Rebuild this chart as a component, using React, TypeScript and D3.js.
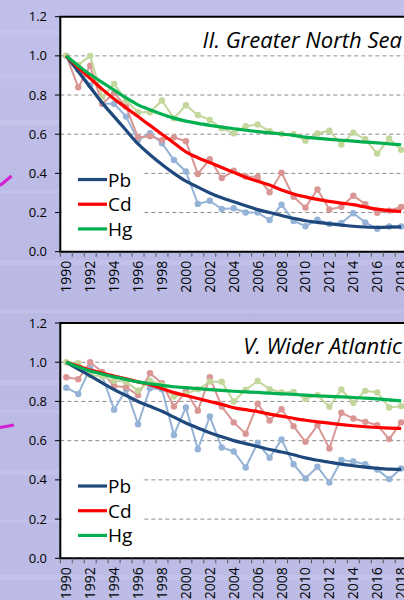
import * as d3 from "d3";

// years on the category axis (2019/2020 sit past the crop on the right)
const axisYears = [1990, 1991, 1992, 1993, 1994, 1995, 1996, 1997, 1998, 1999, 2000, 2001, 2002, 2003, 2004, 2005, 2006, 2007, 2008, 2009, 2010, 2011, 2012, 2013, 2014, 2015, 2016, 2017, 2018, 2019, 2020];
const years = axisYears.slice(0, 29);
const yTicks = [0, 0.2, 0.4, 0.6, 0.8, 1.0, 1.2];
const metals = ["Pb", "Cd", "Hg"];

// II. Greater North Sea
const nsPb = [1.0, 0.93, 0.85, 0.755, 0.755, 0.69, 0.57, 0.605, 0.554, 0.468, 0.41, 0.244, 0.26, 0.218, 0.222, 0.2, 0.2, 0.162, 0.24, 0.157, 0.13, 0.163, 0.142, 0.147, 0.196, 0.15, 0.117, 0.129, 0.129];
const nsCd = [1.0, 0.84, 0.95, 0.755, 0.81, 0.74, 0.584, 0.59, 0.57, 0.584, 0.564, 0.397, 0.472, 0.376, 0.413, 0.384, 0.382, 0.304, 0.403, 0.28, 0.225, 0.318, 0.216, 0.229, 0.286, 0.243, 0.199, 0.21, 0.228];
const nsHg = [1.0, 0.954, 1.0, 0.79, 0.857, 0.772, 0.712, 0.712, 0.772, 0.681, 0.748, 0.698, 0.673, 0.63, 0.604, 0.641, 0.65, 0.615, 0.602, 0.6, 0.567, 0.604, 0.618, 0.547, 0.608, 0.574, 0.501, 0.578, 0.52];
const nsPbTrend = [1.0, 0.92, 0.84, 0.76, 0.69, 0.62, 0.55, 0.495, 0.445, 0.4, 0.36, 0.33, 0.3, 0.275, 0.255, 0.235, 0.215, 0.2, 0.185, 0.17, 0.158, 0.15, 0.142, 0.136, 0.13, 0.126, 0.124, 0.125, 0.127];
const nsCdTrend = [1.0, 0.94, 0.885, 0.83, 0.78, 0.735, 0.69, 0.645, 0.6, 0.555, 0.51, 0.48, 0.455, 0.43, 0.405, 0.38, 0.36, 0.34, 0.315, 0.295, 0.28, 0.267, 0.257, 0.248, 0.24, 0.228, 0.217, 0.21, 0.206];
const nsHgTrend = [1.0, 0.95, 0.905, 0.865, 0.825, 0.785, 0.75, 0.725, 0.702, 0.682, 0.667, 0.655, 0.645, 0.636, 0.628, 0.62, 0.613, 0.607, 0.601, 0.594, 0.585, 0.579, 0.574, 0.569, 0.565, 0.56, 0.556, 0.551, 0.546];

// V. Wider Atlantic
const waPb = [0.87, 0.838, 0.97, 0.93, 0.758, 0.86, 0.684, 0.867, 0.862, 0.629, 0.769, 0.556, 0.723, 0.565, 0.545, 0.463, 0.589, 0.513, 0.606, 0.48, 0.407, 0.467, 0.386, 0.501, 0.494, 0.48, 0.453, 0.404, 0.458];
const waCd = [0.923, 0.913, 1.0, 0.95, 0.879, 0.872, 0.832, 0.944, 0.893, 0.774, 0.852, 0.753, 0.923, 0.774, 0.693, 0.635, 0.788, 0.703, 0.76, 0.674, 0.594, 0.679, 0.56, 0.742, 0.713, 0.696, 0.679, 0.608, 0.693];
const waHg = [1.0, 0.995, 0.935, 0.927, 0.905, 0.9, 0.855, 0.906, 0.884, 0.825, 0.838, 0.862, 0.901, 0.901, 0.8, 0.86, 0.904, 0.863, 0.846, 0.849, 0.813, 0.832, 0.773, 0.861, 0.793, 0.854, 0.846, 0.769, 0.776];
const waPbTrend = [1.0, 0.965, 0.93, 0.895, 0.86, 0.83, 0.8, 0.775, 0.75, 0.72, 0.69, 0.665, 0.64, 0.62, 0.6, 0.585, 0.57, 0.555, 0.542, 0.528, 0.512, 0.5, 0.49, 0.48, 0.472, 0.465, 0.459, 0.455, 0.454];
const waCdTrend = [1.0, 0.98, 0.96, 0.945, 0.93, 0.915, 0.9, 0.885, 0.865, 0.845, 0.83, 0.815, 0.8, 0.785, 0.768, 0.758, 0.748, 0.735, 0.725, 0.714, 0.704, 0.696, 0.689, 0.682, 0.676, 0.671, 0.667, 0.664, 0.662];
const waHgTrend = [1.0, 0.975, 0.955, 0.94, 0.925, 0.912, 0.9, 0.89, 0.882, 0.875, 0.87, 0.865, 0.86, 0.856, 0.852, 0.849, 0.846, 0.842, 0.839, 0.836, 0.832, 0.829, 0.826, 0.823, 0.82, 0.817, 0.813, 0.808, 0.803];

const darkColors = ["#1f497d", "#ff0000", "#00b050"];
const lightColors = ["#95b3d7", "#d99694", "#c3d69b"];

const W = 404;
const H = 600;
const font = "'Open Sans', 'Liberation Sans', sans-serif";

function Panel({ title, top, bottom, raw, trend, magenta }) {
  const x = d3
    .scaleBand()
    .domain(axisYears.map(String))
    .range([60.3, 60.3 + axisYears.length * 11.96]);
  const y = d3.scaleLinear().domain([0, 1.2]).range([bottom, top]);
  const cx = (yr) => x(String(yr)) + x.bandwidth() / 2;
  const left = x.range()[0];
  const right = x.range()[1];

  const line = d3
    .line()
    .x((d, i) => cx(years[i]))
    .y((d) => y(d));
  const smooth = d3
    .line()
    .x((d, i) => cx(years[i]))
    .y((d) => y(d))
    .curve(d3.curveMonotoneX);

  const legendTop = y(0.44);

  return (
    <g>
      <path d={magenta} stroke="#d41ed4" strokeWidth={3} fill="none" />
      <rect x={left} y={top} width={right - left} height={bottom - top} fill="#ffffff" />
      {yTicks
        .filter((t) => t > 0 && t < 1.2)
        .map((t) => (
          <line key={t} x1={left} x2={right} y1={y(t)} y2={y(t)} stroke="#8c8c8c" strokeWidth={1} strokeDasharray="4,3" />
        ))}
      <rect x={62} y={legendTop} width={79} height={y(0.04) - legendTop} fill="#ffffff" />
      {raw.map((s, k) => (
        <g key={"r" + k}>
          <path d={line(s)} stroke={lightColors[k]} strokeWidth={2} fill="none" />
          {s.map((v, i) => (
            <circle key={i} cx={cx(years[i])} cy={y(v)} r={3.2} fill={lightColors[k]} />
          ))}
        </g>
      ))}
      {trend.map((s, k) => (
        <path key={"t" + k} d={smooth(s)} stroke={darkColors[k]} strokeWidth={3.2} fill="none" strokeLinejoin="round" />
      ))}
      {/* frame */}
      <path d={`M${right},${top}H${left}V${bottom}H${right}`} stroke="#000" strokeWidth={2} fill="none" />
      {yTicks.map((t) => (
        <g key={t}>
          <line x1={55} x2={60} y1={y(t)} y2={y(t)} stroke="#000" strokeWidth={1} />
          <text x={47} y={y(t) + 4.5} textAnchor="end" fontSize={13} fontFamily={font} fill="#000">
            {t.toFixed(1)}
          </text>
        </g>
      ))}
      {axisYears.map((yr) => (
        <line key={yr} x1={x(String(yr))} x2={x(String(yr))} y1={bottom} y2={bottom + 5} stroke="#555" strokeWidth={1} />
      ))}
      {axisYears
        .filter((yr) => yr % 2 === 0 && cx(yr) < W)
        .map((yr) => (
          <text
            key={yr}
            transform={`translate(${cx(yr) + 5},${bottom + 9}) rotate(-90)`}
            textAnchor="end"
            fontSize={14}
            fontFamily={font}
            fill="#000"
          >
            {yr}
          </text>
        ))}
      <text x={402} y={top + 31} textAnchor="end" fontSize={22} fontStyle="italic" fontFamily={font} fill="#000">
        {title}
      </text>
      {metals.map((m, k) => {
        const ly = legendTop + 14 + k * 24.7;
        return (
          <g key={m}>
            <line x1={78} x2={107} y1={ly} y2={ly} stroke={darkColors[k]} strokeWidth={3.2} />
            <text x={108} y={ly + 7} fontSize={19} fontFamily={font} fill="#000">
              {m}
            </text>
          </g>
        );
      })}
    </g>
  );
}

export default function App() {
  const stripes = [30, 75, 120, 190, 260, 310, 380, 410, 470, 520, 575];
  return (
    <div style={{ position: "absolute", left: 0, top: 0 }}>
      <svg width={W} height={H} style={{ display: "block" }}>
        <defs>
          <linearGradient id="bg" x1="0" y1="0" x2="0" y2="1">
            <stop offset="0" stopColor="#c0c0ea" />
            <stop offset="0.5" stopColor="#b9b9e4" />
            <stop offset="1" stopColor="#bcbce6" />
          </linearGradient>
        </defs>
        <rect width={W} height={H} fill="url(#bg)" />
        {stripes.map((s, i) => (
          <rect key={s} x={0} y={s} width={W} height={i % 2 ? 3 : 5} fill="#cfcff0" opacity={0.35} />
        ))}
        <Panel
          title="II. Greater North Sea"
          top={16.7}
          bottom={251.7}
          raw={[nsPb, nsCd, nsHg]}
          trend={[nsPbTrend, nsCdTrend, nsHgTrend]}
          magenta="M0,185.5L11.5,176"
        />
        <Panel
          title="V. Wider Atlantic"
          top={323}
          bottom={558.3}
          raw={[waPb, waCd, waHg]}
          trend={[waPbTrend, waCdTrend, waHgTrend]}
          magenta="M0,427.5L14,425"
        />
      </svg>
    </div>
  );
}
